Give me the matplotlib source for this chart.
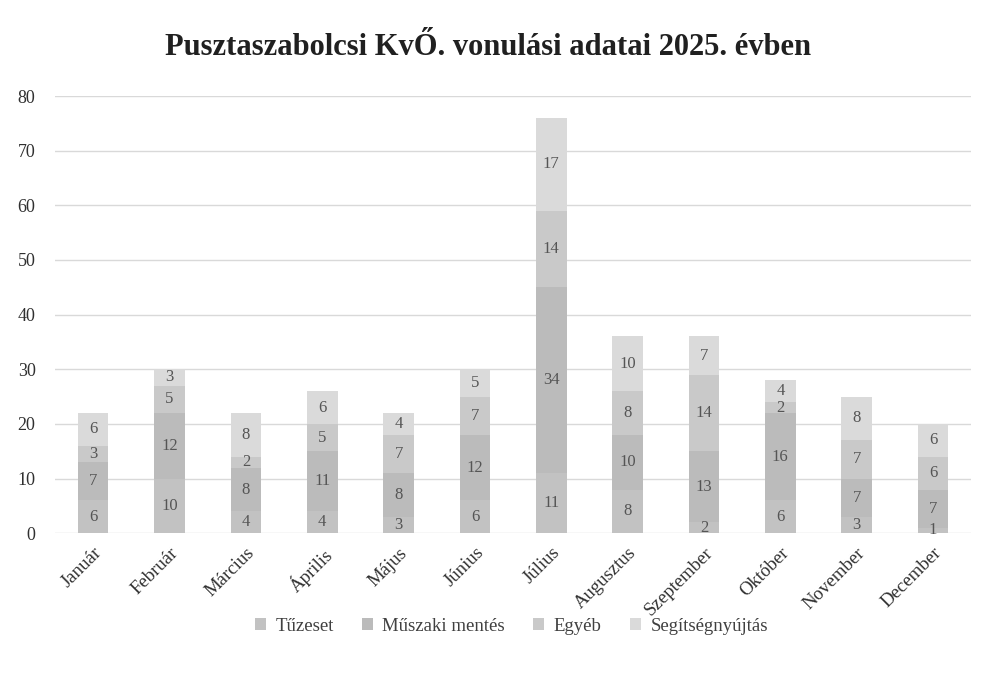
import matplotlib
matplotlib.use("Agg")
import matplotlib.pyplot as plt
import numpy as np

months = ["Január", "Február", "Március", "Április", "Május", "Június",
          "Július", "Augusztus", "Szeptember", "Október", "November", "December"]
series_names = ["Tűzeset", "Műszaki mentés", "Egyéb", "Segítségnyújtás"]
tuzeset = [6, 10, 4, 4, 3, 6, 11, 8, 2, 6, 3, 1]
muszaki = [7, 12, 8, 11, 8, 12, 34, 10, 13, 16, 7, 7]
egyeb = [3, 5, 2, 5, 7, 7, 14, 8, 14, 2, 7, 6]
segitseg = [6, 3, 8, 6, 4, 5, 17, 10, 7, 4, 8, 6]
yticks = list(range(0, 90, 10))

colors = ["#c2c2c2", "#bbbbbb", "#c9c9c9", "#dadada"]
series = [tuzeset, muszaki, egyeb, segitseg]

plt.rcParams['font.family'] = ['Liberation Serif', 'DejaVu Serif']

fig = plt.figure(figsize=(9.83, 6.81), dpi=100)
ax = fig.add_axes([0.056, 0.217, 0.932, 0.642])

x = np.arange(len(months))
bottom = np.zeros(len(months))
for name, vals, c in zip(series_names, series, colors):
    vals = np.array(vals, dtype=float)
    ax.bar(x, vals, 0.4, bottom=bottom, color=c, label=name, zorder=2)
    for xi, b, v in zip(x, bottom, vals):
        if v > 0:
            ax.text(xi, b + v / 2, f"{int(v)}", ha="center", va="center",
                    fontsize=12, color="#555555", zorder=3)
    bottom += vals

ax.set_xlim(-0.5, len(months) - 0.5)
ax.set_ylim(0, 80)
ax.set_yticks(yticks)
ax.set_yticklabels([str(t) for t in yticks], fontsize=13, color="#303030")
ax.set_xticks(x)
ax.set_xticklabels(months, rotation=45, ha="right", rotation_mode="anchor",
                   fontsize=13.5, color="#303030")
ax.tick_params(axis="y", length=0, pad=14)
ax.tick_params(axis="x", length=0, pad=8)
ax.grid(axis="y", color="#d9d9d9", linewidth=1, zorder=0)
for s in ax.spines.values():
    s.set_visible(False)

fig.text(0.497, 0.93, "Pusztaszabolcsi KvŐ. vonulási adatai 2025. évben",
         ha="center", va="center", fontsize=22, fontweight="bold", color="#202020")

fig.legend(loc="center", bbox_to_anchor=(0.52, 0.08), ncol=4, frameon=False,
           fontsize=13.5, handlelength=0.6, handleheight=0.6, columnspacing=1.5,
           handletextpad=0.5, labelcolor="#404040")

fig.savefig("out.png", dpi=100)
